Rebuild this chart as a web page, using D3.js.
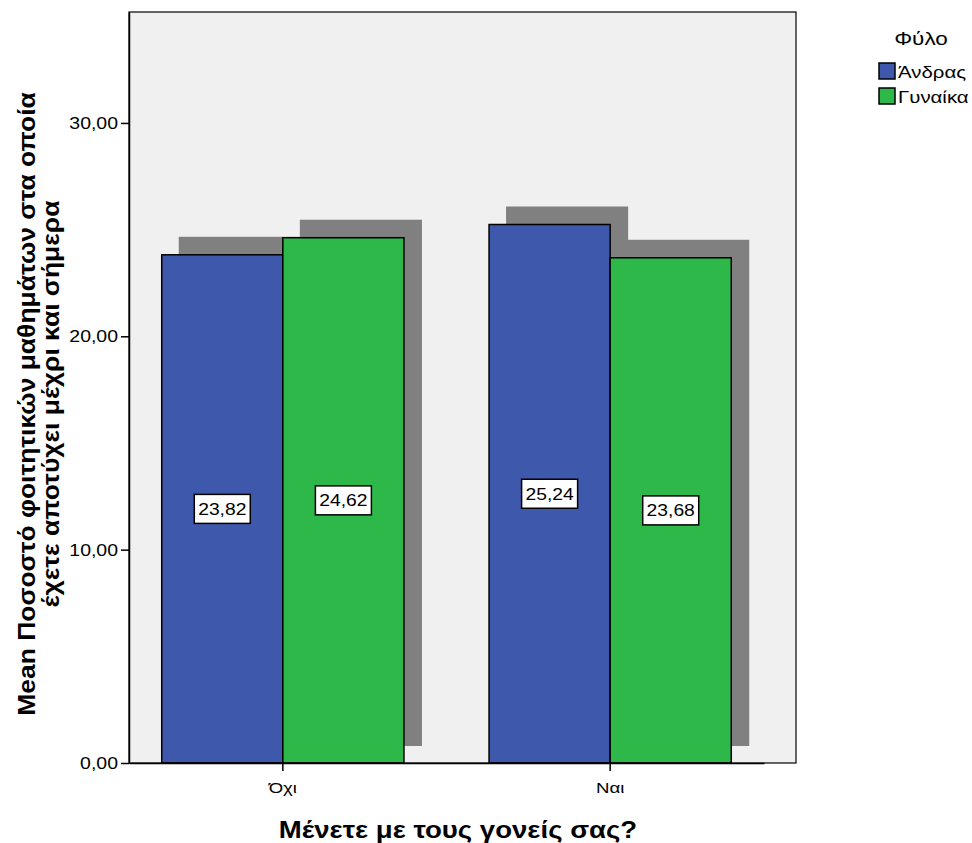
<!DOCTYPE html>
<html><head><meta charset="utf-8">
<script src="https://cdn.jsdelivr.net/npm/d3@7"></script>
<style>body{margin:0;background:#fff}svg{display:block;font-family:"Liberation Sans",Arial,sans-serif}</style>
</head><body><svg id="c" width="972" height="843"></svg>
<script>
const categories = ["Όχι", "Ναι"];
const seriesNames = ["Άνδρας", "Γυναίκα"];
const andras = [23.82, 25.24];
const gynaika = [24.62, 23.68];
const yTicks = [0, 10, 20, 30];
const colors = ["#3e58ab", "#2fb84a"];
const fmt = v => d3.format(".2f")(v).replace(".", ",");

const svg = d3.select("#c");
const L = 129, R = 796, T = 12, B = 763;
const x0 = d3.scaleBand().domain(categories).range([L, R - 32]).paddingInner(0.26).paddingOuter(0.1);
const x1 = d3.scaleBand().domain(seriesNames).range([0, x0.bandwidth()]);
const y = d3.scaleLinear().domain([0, 35.2]).range([B, T]);

// stretched text helper: text placed at (x,y) in a group, scaled horizontally by k
function stext(parent, x, yy, k, txt, size, anchor, weight, rot) {
  const g = parent.append("g").attr("transform", `translate(${x},${yy})${rot ? ` rotate(${rot})` : ""} scale(${k},1)`);
  g.append("text").attr("text-anchor", anchor || "start").attr("font-size", size)
    .attr("font-family", "Liberation Sans, Arial, sans-serif")
    .attr("font-weight", weight || "normal").attr("fill", "#000").text(txt);
  return g;
}

svg.append("rect").attr("x", L).attr("y", T).attr("width", R - L).attr("height", B - T).attr("fill", "#f0f0f0");

const data = [];
categories.forEach((c, i) => {
  data.push({cat: c, s: seriesNames[0], v: andras[i], col: colors[0]});
  data.push({cat: c, s: seriesNames[1], v: gynaika[i], col: colors[1]});
});
const sx = 18, sy = 18;
svg.append("g").selectAll("rect").data(data).join("rect")
  .attr("x", d => x0(d.cat) + x1(d.s) + sx - 1)
  .attr("y", d => y(d.v) - sy)
  .attr("width", x1.bandwidth() + 1)
  .attr("height", d => B - 17 - y(d.v) + sy)
  .attr("fill", "#808080");
svg.append("g").selectAll("rect").data(data).join("rect")
  .attr("x", d => x0(d.cat) + x1(d.s))
  .attr("y", d => y(d.v))
  .attr("width", x1.bandwidth())
  .attr("height", d => B - y(d.v))
  .attr("fill", d => d.col).attr("stroke", "#000").attr("stroke-width", 1.5);

// value labels
const lg = svg.append("g").selectAll("g").data(data).join("g")
  .attr("transform", d => `translate(${x0(d.cat) + x1(d.s) + x1.bandwidth() / 2},${(y(d.v) + B) / 2})`);
lg.append("rect").attr("x", -28).attr("y", -14.5).attr("width", 56).attr("height", 29)
  .attr("fill", "#fff").attr("stroke", "#000").attr("stroke-width", 1.5);
lg.each(function (d) { stext(d3.select(this), 0, 6, 1.17, fmt(d.v), 16.5, "middle"); });

// frame
svg.append("rect").attr("x", L).attr("y", T).attr("width", R - L).attr("height", B - T)
  .attr("fill", "none").attr("stroke", "#000").attr("stroke-width", 1.2);

// y axis (ticks from library, labels drawn stretched)
const ya = svg.append("g").attr("transform", `translate(${L},0)`)
  .call(d3.axisLeft(y).tickValues(yTicks).tickFormat("").tickSize(8).tickSizeOuter(0));
ya.select(".domain").attr("stroke-width", 1.5);
ya.selectAll("line").attr("stroke-width", 1.5);
yTicks.forEach(v => stext(svg, L - 11, y(v) + 6, 1.18, fmt(v), 16.5, "end"));

// x axis
const xa = svg.append("g").attr("transform", `translate(0,${B})`)
  .call(d3.axisBottom(x0).tickFormat("").tickSize(8).tickSizeOuter(0));
xa.select(".domain").attr("stroke-width", 1.5);
xa.selectAll("line").attr("stroke-width", 1.5);
categories.forEach(c => stext(svg, x0(c) + x0.bandwidth() / 2, B + 30, 1.2, c, 15.5, "middle"));

// titles
stext(svg, 458, 838, 1.2, "Μένετε με τους γονείς σας?", 23, "middle", "bold");
stext(svg, 35, 404, 1.15, "Mean Ποσοστό φοιτητικών μαθημάτων στα οποία", 23, "middle", "bold", -90);
stext(svg, 59, 404, 1.15, "έχετε αποτύχει μέχρι και σήμερα", 23, "middle", "bold", -90);

// legend
stext(svg, 921, 45, 1.25, "Φύλο", 18, "middle");
const leg = svg.append("g").selectAll("g").data(seriesNames).join("g")
  .attr("transform", (d, i) => `translate(879,${63 + i * 25})`);
leg.append("rect").attr("width", 16).attr("height", 16).attr("fill", (d, i) => colors[i]).attr("stroke", "#000").attr("stroke-width", 1.5);
leg.each(function (d) { stext(d3.select(this), 19, 15, 1.2, d, 17, "start"); });
</script></body></html>
